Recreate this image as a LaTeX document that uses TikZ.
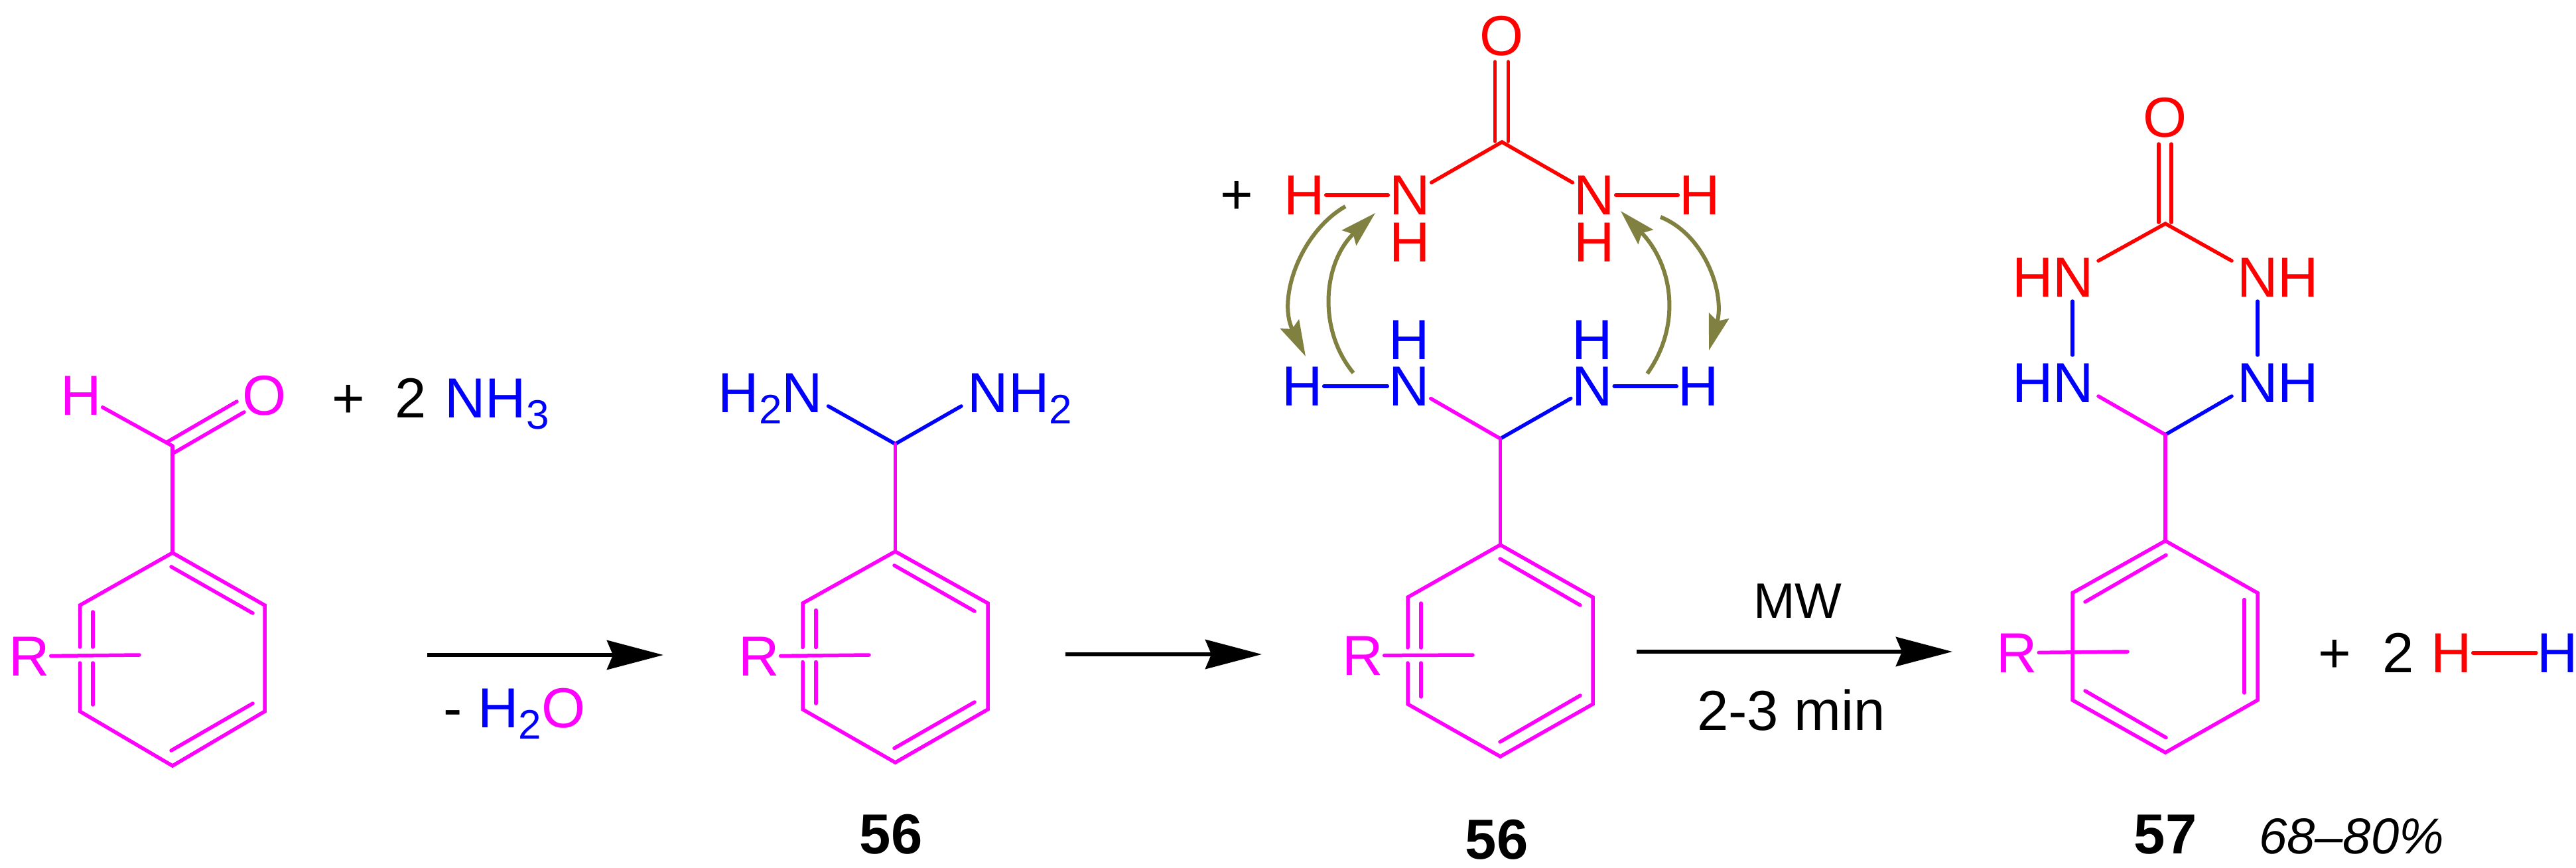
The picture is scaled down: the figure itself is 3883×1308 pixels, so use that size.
\documentclass[tikz,border=0pt]{standalone}
\usepackage{fontspec}
\setmainfont{Liberation Sans}
\usepackage{xcolor}
\usetikzlibrary{arrows.meta, positioning}
\definecolor{ringcol}{HTML}{FF00FF}
\definecolor{ureacol}{HTML}{FF0000}
\definecolor{aminecol}{HTML}{0000FF}
\definecolor{flipcol}{HTML}{808040}
\newcommand{\sbs}[1]{\raisebox{-17pt}{\fontsize{62}{62}\selectfont #1}}
\tikzset{ % global config
	>={Stealth[length=85pt, width=44pt, inset=9pt]}, % reaction arrow heads
	atom/.style={inner sep=2pt, outer sep=0pt, anchor=base, font=\fontsize{85}{85}\selectfont}, % every printed label
	numlab/.style={atom, font=\fontsize{85}{85}\selectfont\bfseries}, % compound numbers
	bond/.style={line width=5.5pt, line cap=round, line join=miter}, % chemical bonds
	rxn/.style={->, line width=6.5pt}, % reaction arrows
	flip/.style={line width=6pt, flipcol, -{Stealth[length=54pt, width=31pt, inset=8pt]}}, % hydrogen transfer arrows
}
\begin{document}
\begin{tikzpicture}[x=1pt, y=-1pt]

		\useasboundingbox (0,0) rectangle (3883,1308);

		% benzaldehyde
		\node[atom, text=ringcol] (hald) at (122,625) {H};
		\node[atom, text=ringcol] (oald) at (398.5,625) {O};
		\node[atom] (pa) at (525,629) {+};
		\node[atom] (twoa) at (619.5,629) {2};
		\node[atom, text=aminecol] (nh3) at (749,629) {NH\sbs{3}};
		\node[atom, text=ringcol] (ra) at (44,1018) {R};
		\coordinate (cald) at (260,672);
		\coordinate (oa1) at (252,666);
		\coordinate (oa2) at (357,605);
		\coordinate (oa3) at (261,683);
		\coordinate (oa4) at (368,621);
		\coordinate (r1t) at (260,833);
		\coordinate (r1ur) at (399,912);
		\coordinate (r1lr) at (399,1072);
		\coordinate (r1b) at (260,1154);
		\coordinate (r1ll) at (120.5,1072);
		\coordinate (r1ul) at (120.5,912);
		\coordinate (r1ga) at (120.5,975);
		\coordinate (r1gb) at (120.5,999);
		\coordinate (r1ia) at (258,854);
		\coordinate (r1ib) at (381,924);
		\coordinate (r1ic) at (381,1060);
		\coordinate (r1id) at (258,1131);
		\coordinate (r1ie) at (140,922);
		\coordinate (r1if) at (140,975);
		\coordinate (r1ig) at (140,999);
		\coordinate (r1ih) at (140,1062);
		\coordinate (r1re) at (210,987);
		\draw[bond, ringcol] (hald) -- (cald);
		\draw[bond, ringcol] (oa1) -- (oa2);
		\draw[bond, ringcol] (oa3) -- (oa4);
		\draw[bond, ringcol] (cald) -- (r1t);
		\draw[bond, ringcol] (r1ga) -- (r1ul) -- (r1t) -- (r1ur) -- (r1lr) -- (r1b) -- (r1ll) -- (r1gb);
		\draw[bond, ringcol] (r1ia) -- (r1ib);
		\draw[bond, ringcol] (r1ic) -- (r1id);
		\draw[bond, ringcol] (r1ie) -- (r1if);
		\draw[bond, ringcol] (r1ig) -- (r1ih);
		\draw[bond, ringcol] (ra) -- (r1re);

		% first arrow
		\coordinate (a1s) at (644,987);
		\coordinate (a1e) at (1000,987);
		\draw[rxn] (a1s) -- (a1e);
		\node[atom] (lossw) at (775.5,1096) {- {\color{aminecol}H\sbs{2}}{\color{ringcol}O}};

		% aminal
		\node[atom, text=aminecol] (nh2l) at (1161.5,621) {H\sbs{2}N};
		\node[atom, text=aminecol] (nh2r) at (1537.5,621) {NH\sbs{2}};
		\node[atom, text=ringcol] (rb) at (1144,1018) {R};
		\node[numlab] (n56a) at (1343,1286) {56};
		\coordinate (cb) at (1349.5,669);
		\coordinate (cbl) at (1248.5,612);
		\coordinate (cbr) at (1449,612);
		\coordinate (r2t) at (1349.5,831);
		\coordinate (r2ur) at (1489,909);
		\coordinate (r2lr) at (1489,1069);
		\coordinate (r2b) at (1349.5,1149);
		\coordinate (r2ll) at (1210,1069);
		\coordinate (r2ul) at (1210,909);
		\coordinate (r2ga) at (1210,975.5);
		\coordinate (r2gb) at (1210,997.5);
		\coordinate (r2ia) at (1348,852);
		\coordinate (r2ib) at (1469,921);
		\coordinate (r2ic) at (1469,1058);
		\coordinate (r2id) at (1348,1127.5);
		\coordinate (r2ie) at (1230,919.5);
		\coordinate (r2if) at (1230,975.5);
		\coordinate (r2ig) at (1230,997.5);
		\coordinate (r2ih) at (1230,1060);
		\coordinate (r2re) at (1310,987);
		\draw[bond, aminecol] (cbl) -- (cb) -- (cbr);
		\draw[bond, ringcol] (cb) -- (r2t);
		\draw[bond, ringcol] (r2ga) -- (r2ul) -- (r2t) -- (r2ur) -- (r2lr) -- (r2b) -- (r2ll) -- (r2gb);
		\draw[bond, ringcol] (r2ia) -- (r2ib);
		\draw[bond, ringcol] (r2ic) -- (r2id);
		\draw[bond, ringcol] (r2ie) -- (r2if);
		\draw[bond, ringcol] (r2ig) -- (r2ih);
		\draw[bond, ringcol] (rb) -- (r2re);

		% second arrow
		\coordinate (a2s) at (1606,986);
		\coordinate (a2e) at (1902,986);
		\draw[rxn] (a2s) -- (a2e);

		% urea on the aminal
		\node[atom] (pc) at (1864,322) {+};
		\node[atom, text=ureacol] (ou) at (2263.5,84) {O};
		\node[atom, text=ureacol] (hu1) at (1966,323) {H};
		\node[atom, text=ureacol] (nu1) at (2125,323) {N};
		\node[atom, text=ureacol] (hu2) at (2125,394) {H};
		\node[atom, text=ureacol] (nu2) at (2403,323) {N};
		\node[atom, text=ureacol] (hu3) at (2403,394) {H};
		\node[atom, text=ureacol] (hu4) at (2562,323) {H};
		\node[atom, text=aminecol] (hc1) at (1963,611) {H};
		\node[atom, text=aminecol] (nc1) at (2124,611) {N};
		\node[atom, text=aminecol] (hc2) at (2124,541) {H};
		\node[atom, text=aminecol] (nc2) at (2400.5,611) {N};
		\node[atom, text=aminecol] (hc3) at (2400.5,541) {H};
		\node[atom, text=aminecol] (hc4) at (2560,611) {H};
		\node[atom, text=ringcol] (rc) at (2054,1017) {R};
		\node[numlab] (n56b) at (2256,1294) {56};
		\coordinate (cu) at (2264,214);
		\coordinate (ou1) at (2253.5,93);
		\coordinate (ou2) at (2253.5,213);
		\coordinate (ou3) at (2273.5,93);
		\coordinate (ou4) at (2273.5,213);
		\coordinate (cc) at (2261.5,661);
		\coordinate (r3t) at (2261.5,821);
		\coordinate (r3ur) at (2401,900);
		\coordinate (r3lr) at (2401,1061);
		\coordinate (r3b) at (2261.5,1140);
		\coordinate (r3ll) at (2122,1061);
		\coordinate (r3ul) at (2122,900);
		\coordinate (r3ga) at (2122,976);
		\coordinate (r3gb) at (2122,999);
		\coordinate (r3ia) at (2261,842);
		\coordinate (r3ib) at (2382,912);
		\coordinate (r3ic) at (2382,1048);
		\coordinate (r3id) at (2261,1118);
		\coordinate (r3ie) at (2142,909);
		\coordinate (r3if) at (2142,976);
		\coordinate (r3ig) at (2142,999);
		\coordinate (r3ih) at (2142,1050);
		\coordinate (r3re) at (2220,987);
		\draw[bond, ureacol] (ou1) -- (ou2);
		\draw[bond, ureacol] (ou3) -- (ou4);
		\draw[bond, ureacol] (nu1) -- (cu) -- (nu2);
		\draw[bond, ureacol] (hu1) -- (nu1);
		\draw[bond, ureacol] (nu2) -- (hu4);
		\draw[bond, aminecol] (hc1) -- (nc1);
		\draw[bond, aminecol] (nc2) -- (hc4);
		\draw[bond, ringcol] (nc1) -- (cc);
		\draw[bond, aminecol] (nc2) -- (cc);
		\draw[bond, ringcol] (cc) -- (r3t);
		\draw[bond, ringcol] (r3ga) -- (r3ul) -- (r3t) -- (r3ur) -- (r3lr) -- (r3b) -- (r3ll) -- (r3gb);
		\draw[bond, ringcol] (r3ia) -- (r3ib);
		\draw[bond, ringcol] (r3ic) -- (r3id);
		\draw[bond, ringcol] (r3ie) -- (r3if);
		\draw[bond, ringcol] (r3ig) -- (r3ih);
		\draw[bond, ringcol] (rc) -- (r3re);

		% hydrogen transfer
		\coordinate (fa) at (2028,311);
		\coordinate (fb) at (1968,537);
		\coordinate (fc) at (2040,562);
		\coordinate (fd) at (2073,321);
		\coordinate (fe) at (2483,563);
		\coordinate (ff) at (2443,318);
		\coordinate (fg) at (2503,327);
		\coordinate (fh) at (2576,528);
		\draw[flip] (fa) .. controls (1960,350) and (1925,450) .. (fb);
		\draw[flip] (fc) .. controls (1985,495) and (1995,395) .. (fd);
		\draw[flip] (fe) .. controls (2535,490) and (2522,400) .. (ff);
		\draw[flip] (fg) .. controls (2572,355) and (2600,445) .. (fh);

		% third arrow
		\coordinate (a3s) at (2467,982);
		\coordinate (a3e) at (2943,982);
		\draw[rxn] (a3s) -- (a3e);
		\node[atom, font=\fontsize{75}{75}\selectfont] (mw) at (2710,931) {MW};
		\node[atom] (tmin) at (2700,1100) {2-3 min};

		% product
		\node[atom, text=ureacol] (op) at (3264,207) {O};
		\node[atom, text=ureacol] (hnr) at (3094.5,447) {HN};
		\node[atom, text=ureacol] (nhr) at (3433.5,447) {NH};
		\node[atom, text=aminecol] (hnb) at (3094.5,606) {HN};
		\node[atom, text=aminecol] (nhb) at (3433.5,606) {NH};
		\node[atom, text=ringcol] (rd) at (3040.5,1013) {R};
		\node[atom] (pd) at (3519,1013) {+};
		\node[atom] (twod) at (3615.5,1013) {2};
		\node[atom, text=ureacol] (hh1) at (3695,1013) {H};
		\node[atom, text=aminecol] (hh2) at (3855.5,1013) {H};
		\node[numlab] (n57) at (3264,1286) {57};
		\node[atom, font=\fontsize{76}{76}\selectfont\itshape] (yld) at (3544.5,1286) {68–80\%};
		\coordinate (op1) at (3254,217);
		\coordinate (op2) at (3254,335);
		\coordinate (op3) at (3273,217);
		\coordinate (op4) at (3273,335);
		\coordinate (cp) at (3264,337);
		\coordinate (cpl) at (3163,393);
		\coordinate (cpr) at (3364,393);
		\coordinate (nnl1) at (3124,454);
		\coordinate (nnl2) at (3124,535);
		\coordinate (nnr1) at (3403,454);
		\coordinate (nnr2) at (3403,535);
		\coordinate (cq) at (3264,655);
		\coordinate (cql) at (3163,597);
		\coordinate (cqr) at (3364,597);
		\coordinate (r4t) at (3264,815);
		\coordinate (r4ur) at (3403,893.5);
		\coordinate (r4lr) at (3403,1055);
		\coordinate (r4b) at (3264,1134);
		\coordinate (r4ll) at (3124,1055);
		\coordinate (r4ul) at (3124,893.5);
		\coordinate (r4ia) at (3143,907);
		\coordinate (r4ib) at (3265,836.5);
		\coordinate (r4ic) at (3383,903.5);
		\coordinate (r4id) at (3383,1044);
		\coordinate (r4ie) at (3143,1041);
		\coordinate (r4if) at (3265,1111.5);
		\coordinate (r4re) at (3207,982);
		\draw[bond, ureacol] (op1) -- (op2);
		\draw[bond, ureacol] (op3) -- (op4);
		\draw[bond, ureacol] (cpl) -- (cp) -- (cpr);
		\draw[bond, aminecol] (nnl1) -- (nnl2);
		\draw[bond, aminecol] (nnr1) -- (nnr2);
		\draw[bond, ringcol] (cql) -- (cq);
		\draw[bond, aminecol] (cq) -- (cqr);
		\draw[bond, ringcol] (cq) -- (r4t);
		\draw[bond, ringcol] (r4t) -- (r4ur) -- (r4lr) -- (r4b) -- (r4ll) -- (r4ul) -- cycle;
		\draw[bond, ringcol] (r4ia) -- (r4ib);
		\draw[bond, ringcol] (r4ic) -- (r4id);
		\draw[bond, ringcol] (r4ie) -- (r4if);
		\draw[bond, ringcol] (rd) -- (r4re);
		\draw[bond, ureacol] (hh1) -- (hh2);

	\end{tikzpicture}
\end{document}
